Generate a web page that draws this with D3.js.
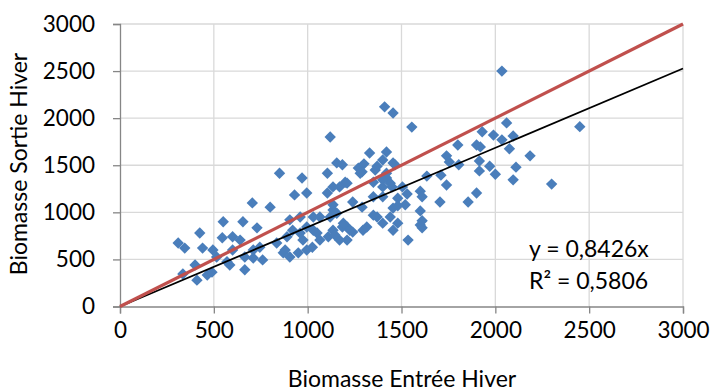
<!DOCTYPE html>
<html>
<head>
<meta charset="utf-8">
<script src="https://cdn.jsdelivr.net/npm/d3@7"></script>
<style>
  html, body { margin: 0; padding: 0; background: #fff; }
  svg { display: block; }
  text { font-family: Lato, "Open Sans", sans-serif; fill: #000; }
</style>
</head>
<body>
<svg id="chart" width="713" height="392"></svg>
<script>
// Biomasse en entrée d'hiver (x) et en sortie d'hiver (y)
const entreeHiver = [
  310, 345, 425, 440, 495, 545, 550, 655, 705, 800, 730, 600, 640, 335, 400, 410, 465, 490, 515, 570,
  585, 665, 600, 665, 710, 760, 710, 745, 835, 870, 905, 930, 995, 1105, 1240, 960, 905, 920, 995, 1050,
  1065, 1135, 1210, 975, 995, 1065, 1110, 1135, 1210, 1240, 1120, 850, 970, 1105, 1155, 1170, 1200, 1270, 1330, 1420,
  1300, 1290, 1370, 1350, 1420, 1450, 1030, 1120, 1135, 1185, 1225, 1295, 1370, 1400, 1455, 890, 960, 1030, 880, 950,
  1025, 1170, 1535, 1410, 1455, 1555, 1930, 1990, 2035, 1455, 1400, 1800, 1900, 1740, 1755, 1805, 1915, 1915, 1970, 2000,
  1635, 1710, 1740, 1420, 1440, 1505, 1530, 1600, 1610, 1520, 1455, 1600, 1610, 1610, 1705, 1855, 1900, 2095, 1400, 1400,
  1440, 1480, 2035, 2060, 2095, 2450, 2075, 2185, 1920, 2110, 2300, 1465, 1185, 1210, 1280, 1360, 1400, 1350, 1315, 1480,
  1135, 1350, 1480, 1290, 1155, 1190, 1600, 1145
];
const sortieHiver = [
  675, 620, 780, 620, 600, 730, 900, 900, 1100, 1055, 835, 740, 705, 345, 440, 280, 335, 365, 525, 475,
  440, 390, 600, 525, 515, 495, 600, 630, 675, 570, 525, 1185, 1205, 1205, 1110, 950, 920, 810, 845, 780,
  950, 1025, 845, 705, 600, 705, 740, 810, 705, 790, 1800, 1415, 1365, 1415, 1525, 1270, 1320, 1470, 1630, 1640,
  1515, 1430, 1490, 1320, 1365, 1270, 950, 950, 1080, 845, 810, 810, 950, 885, 810, 740, 780, 810, 600, 570,
  630, 705, 705, 2120, 2055, 1905, 1855, 1820, 1770, 1525, 1555, 1715, 1715, 1600, 1535, 1505, 1545, 1440, 1490, 1405,
  1385, 1395, 1290, 1415, 1310, 1270, 1195, 1225, 1165, 1080, 1045, 1015, 910, 835, 1110, 1110, 1205, 1345, 1270, 1165,
  950, 885, 2500, 1950, 1810, 1910, 1675, 1600, 1695, 1480, 1300, 1505, 1505, 1310, 1415, 1450, 1345, 970, 845, 1150,
  1270, 1165, 1070, 1055, 990, 885, 865, 760
];

const axisTicks = [0, 500, 1000, 1500, 2000, 2500, 3000];
const pente = 0.8426;
const r2 = 0.5806;
const equationLabels = ["y = 0,8426x", "R² = 0,5806"];
const xTitle = "Biomasse Entrée Hiver";
const yTitle = "Biomasse Sortie Hiver";

const points = entreeHiver.map((x, i) => ({ x, y: sortieHiver[i] }));

const svg = d3.select("#chart");
const plotLeft = 120, plotRight = 683, plotTop = 24, plotBottom = 306.5;
const fontSize = 23;

const x = d3.scaleLinear().domain([0, 3000]).range([plotLeft, plotRight]);
const y = d3.scaleLinear().domain([0, 3000]).range([plotBottom, plotTop]);

// Grille
const grid = svg.append("g");
grid.selectAll("line.h").data(axisTicks.filter(d => d > 0)).enter().append("line")
  .attr("x1", plotLeft).attr("x2", plotRight)
  .attr("y1", d => y(d)).attr("y2", d => y(d))
  .attr("stroke", "#d9d9d9").attr("stroke-width", 1.3);
grid.selectAll("line.v").data(axisTicks.filter(d => d > 0)).enter().append("line")
  .attr("y1", plotTop).attr("y2", plotBottom)
  .attr("x1", d => x(d)).attr("x2", d => x(d))
  .attr("stroke", "#d9d9d9").attr("stroke-width", 1.3);

// Axes
const xAxis = svg.append("g").attr("transform", `translate(0,${plotBottom})`)
  .call(d3.axisBottom(x).tickValues(axisTicks).tickSize(7).tickPadding(9).tickFormat(d3.format("d")));
const yAxis = svg.append("g").attr("transform", `translate(${plotLeft},0)`)
  .call(d3.axisLeft(y).tickValues(axisTicks).tickSize(7).tickPadding(18).tickFormat(d3.format("d")));
[xAxis, yAxis].forEach(g => {
  g.select(".domain").attr("stroke", "#868686").attr("stroke-width", 1.3);
  g.selectAll(".tick line").attr("stroke", "#868686").attr("stroke-width", 1.3);
  g.selectAll(".tick text").attr("font-size", 22.5).attr("font-family", "Lato, sans-serif").attr("fill", "#000");
});
xAxis.selectAll(".tick text").attr("dy", "0.68em");

// Points
const half = 5.7;
svg.append("g").selectAll("path").data(points).enter().append("path")
  .attr("d", d => {
    const cx = x(d.x), cy = y(d.y);
    return `M${cx},${cy - half}L${cx + half},${cy}L${cx},${cy + half}L${cx - half},${cy}Z`;
  })
  .attr("fill", "#4a7ebb");

// Droite de régression y = 0,8426x
const line = d3.line().x(d => x(d[0])).y(d => y(d[1]));
svg.append("path").datum([[0, 0], [3000, 3000 * pente]])
  .attr("d", line).attr("stroke", "#000").attr("stroke-width", 1.8).attr("fill", "none");

// Bissectrice y = x
svg.append("path").datum([[0, 0], [3000, 3000]])
  .attr("d", line).attr("stroke", "#c0504d").attr("stroke-width", 3.2).attr("fill", "none");

// Équation de la tendance
svg.append("text").attr("x", 529).attr("y", 257).attr("font-size", fontSize).text(equationLabels[0]);
svg.append("text").attr("x", 529).attr("y", 289).attr("font-size", fontSize).text(equationLabels[1]);

// Titres des axes
svg.append("text").attr("x", 402).attr("y", 387).attr("text-anchor", "middle")
  .attr("font-size", fontSize).text(xTitle);
svg.append("text").attr("transform", `translate(27,164) rotate(-90)`).attr("text-anchor", "middle")
  .attr("font-size", fontSize).text(yTitle);
</script>
</body>
</html>
